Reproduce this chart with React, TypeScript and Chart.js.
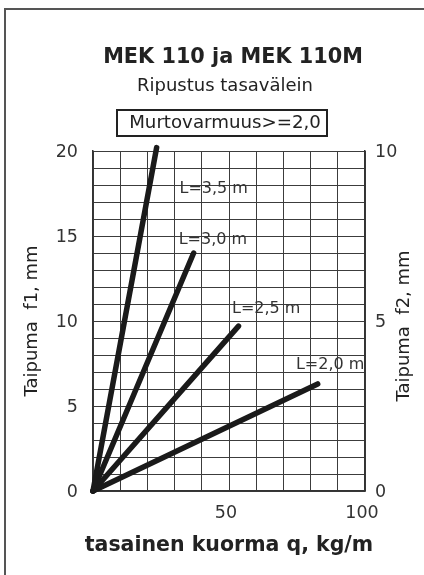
import React, { useEffect, useRef } from "react";
import { Chart, registerables } from "chart.js";

Chart.register(...registerables);

// ---- data ----
const qL35 = [0, 23.4];
const fL35 = [0, 20.2];
const qL30 = [0, 37];
const fL30 = [0, 14];
const qL25 = [0, 53.5];
const fL25 = [0, 9.7];
const qL20 = [0, 82.6];
const fL20 = [0, 6.3];
const seriesNames = ["L=3,5 m", "L=3,0 m", "L=2,5 m", "L=2,0 m"];
const leftTicks = [0, 5, 10, 15, 20];
const rightTicks = [0, 5, 10];
const xTickLabels = [50, 100];
const titleText = "MEK 110 ja MEK 110M";
const subtitleText = "Ripustus tasavälein";
const boxText = "Murtovarmuus>=2,0";
const xTitle = "tasainen kuorma q, kg/m";
const yTitle = "Taipuma  f1, mm";
const y2Title = "Taipuma  f2, mm";

const FONT = '"DejaVu Sans", sans-serif';
const TEXT = "#222";

const toPts = (qs: number[], fs: number[]) => qs.map((q, i) => ({ x: q, y: fs[i] }));

// label anchor (left edge, vertical middle) in data units
const labelAnchors = [
  { q: 31.8, f: 17.75 },
  { q: 31.5, f: 14.76 },
  { q: 51.1, f: 10.69 },
  { q: 74.6, f: 7.45 },
];

const decorPlugin = {
  id: "decor",
  afterDraw(chart: any) {
    const ctx = chart.ctx as CanvasRenderingContext2D;
    const x = chart.scales.x;
    const y = chart.scales.y;
    const y2 = chart.scales.y2;
    ctx.save();
    // outer frame
    ctx.strokeStyle = "#555";
    ctx.lineWidth = 2;
    ctx.beginPath();
    ctx.moveTo(5, 580);
    ctx.lineTo(5, 9);
    ctx.lineTo(430, 9);
    ctx.stroke();

    ctx.fillStyle = TEXT;
    ctx.textBaseline = "middle";
    ctx.textAlign = "center";
    ctx.font = `bold 20.8px ${FONT}`;
    ctx.fillText(titleText, 233, 58);
    ctx.font = `18px ${FONT}`;
    ctx.fillText(subtitleText, 225, 86);
    // box
    ctx.lineWidth = 2;
    ctx.strokeStyle = "#222";
    ctx.strokeRect(117, 110, 210, 26);
    ctx.font = `18.2px ${FONT}`;
    ctx.fillText(boxText, 225, 123.5);

    // left ticks
    ctx.font = `17.5px ${FONT}`;
    ctx.fillStyle = "#333";
    ctx.textAlign = "right";
    leftTicks.forEach((v) => ctx.fillText(String(v), 78, y.getPixelForValue(v) + 1));
    ctx.textAlign = "left";
    rightTicks.forEach((v) => ctx.fillText(String(v), 375, y2.getPixelForValue(v) + 1));
    ctx.textAlign = "center";
    xTickLabels.forEach((v) => ctx.fillText(String(v), x.getPixelForValue(v) - 3, 513));

    // axis titles
    ctx.fillStyle = TEXT;
    ctx.font = `bold 20.5px ${FONT}`;
    ctx.fillText(xTitle, 229, 546);
    ctx.font = `18px ${FONT}`;
    ctx.save();
    ctx.translate(32, 321);
    ctx.rotate(-Math.PI / 2);
    ctx.fillText(yTitle, 0, 0);
    ctx.restore();
    ctx.save();
    ctx.translate(404, 326);
    ctx.rotate(-Math.PI / 2);
    ctx.fillText(y2Title, 0, 0);
    ctx.restore();

    // series labels
    ctx.font = `16px ${FONT}`;
    ctx.textAlign = "left";
    ctx.fillStyle = "#333";
    seriesNames.forEach((n, i) => {
      const a = labelAnchors[i];
      ctx.fillText(n, x.getPixelForValue(a.q), y.getPixelForValue(a.f));
    });
    ctx.restore();
  },
};

export default function App() {
  const ref = useRef<HTMLCanvasElement | null>(null);
  useEffect(() => {
    if (!ref.current) return;
    const lineStyle = {
      borderColor: "#1a1a1a",
      borderWidth: 5.5,
      borderCapStyle: "round" as const,
      pointRadius: 0,
      clip: false as any,
      fill: false,
      tension: 0,
    };
    const chart = new Chart(ref.current, {
      type: "line",
      data: {
        datasets: [
          { label: seriesNames[0], data: toPts(qL35, fL35), ...lineStyle },
          { label: seriesNames[1], data: toPts(qL30, fL30), ...lineStyle },
          { label: seriesNames[2], data: toPts(qL25, fL25), ...lineStyle },
          { label: seriesNames[3], data: toPts(qL20, fL20), ...lineStyle },
        ],
      },
      options: {
        animation: false,
        responsive: false,
        devicePixelRatio: 1,
        layout: { padding: { left: 93, right: 59, top: 151, bottom: 84 } },
        plugins: { legend: { display: false }, tooltip: { enabled: false }, title: { display: false } },
        scales: {
          x: {
            type: "linear",
            min: 0,
            max: 100,
            ticks: { display: false, stepSize: 10 },
            grid: { color: "#3c3c3c", lineWidth: 1, drawTicks: false },
            border: { display: true, color: "#333", width: 1.5 },
            afterFit: (s: any) => { s.height = 0; },
          },
          y: {
            type: "linear",
            min: 0,
            max: 20,
            ticks: { display: false, stepSize: 1 },
            grid: { color: "#3c3c3c", lineWidth: 1, drawTicks: false },
            border: { display: true, color: "#333", width: 1.5 },
            afterFit: (s: any) => { s.width = 0; },
          },
          y2: {
            type: "linear",
            position: "right",
            min: 0,
            max: 10,
            ticks: { display: false, stepSize: 5 },
            grid: { display: false, drawTicks: false },
            border: { display: true, color: "#333", width: 1.5 },
            afterFit: (s: any) => { s.width = 0; },
          },
        },
      },
      plugins: [decorPlugin],
    });
    return () => chart.destroy();
  }, []);
  return (
    <div style={{ position: "absolute", left: 0, top: 0, width: 424, height: 575, background: "#fff" }}>
      <canvas ref={ref} width={424} height={575} style={{ width: 424, height: 575, display: "block" }} />
    </div>
  );
}
